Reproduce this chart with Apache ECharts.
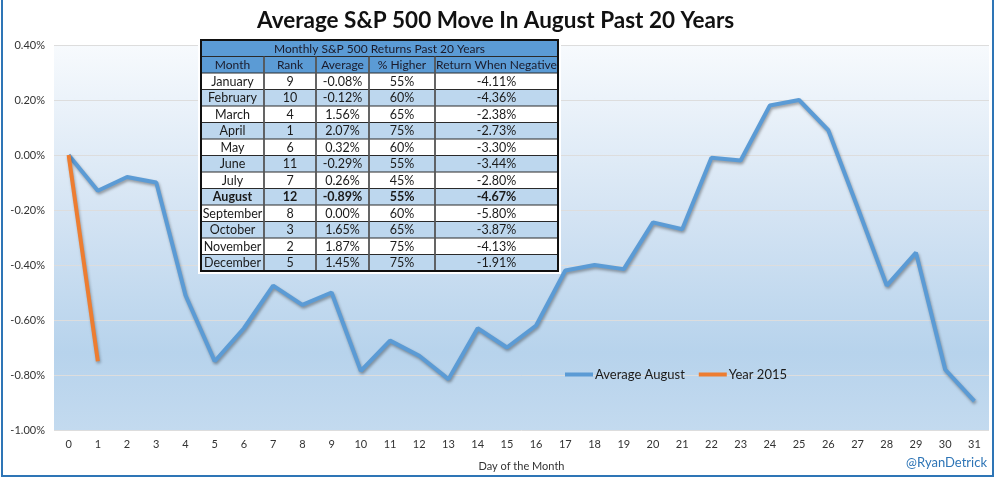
<!DOCTYPE html>
<html>
<head>
<meta charset="utf-8">
<script src="https://cdn.jsdelivr.net/npm/echarts@6/dist/echarts.min.js"></script>
<style>
html,body{margin:0;padding:0;background:#fff;}
#chart{width:998px;height:480px;}
</style>
</head>
<body>
<div id="chart"></div>
<script>
const days = ['0','1','2','3','4','5','6','7','8','9','10','11','12','13','14','15','16','17','18','19','20','21','22','23','24','25','26','27','28','29','30','31'];
const avgAugust = [0, -0.13, -0.08, -0.10, -0.51, -0.75, -0.63, -0.475, -0.545, -0.50, -0.785, -0.675, -0.73, -0.815, -0.63, -0.70, -0.62, -0.42, -0.40, -0.415, -0.245, -0.27, -0.01, -0.02, 0.18, 0.20, 0.09, -0.19, -0.475, -0.355, -0.78, -0.895];
const year2015 = [0, -0.75];

const tableTitle = 'Monthly S&P 500 Returns Past 20 Years';
const tableHeader = ['Month', 'Rank', 'Average', '% Higher', 'Return When Negative'];
const months = ['January','February','March','April','May','June','July','August','September','October','November','December'];
const ranks = ['9','10','4','1','6','11','7','12','8','3','2','5'];
const averages = ['-0.08%','-0.12%','1.56%','2.07%','0.32%','-0.29%','0.26%','-0.89%','0.00%','1.65%','1.87%','1.45%'];
const pctHigher = ['55%','60%','65%','75%','60%','55%','45%','55%','60%','65%','75%','75%'];
const retNegative = ['-4.11%','-4.36%','-2.38%','-2.73%','-3.30%','-3.44%','-2.80%','-4.67%','-5.80%','-3.87%','-4.13%','-1.91%'];
const boldMonth = 'August';

const FONT = 'Lato, "Open Sans", sans-serif';
const chart = echarts.init(document.getElementById('chart'));

// table graphic
const colX = [201, 264, 316, 369, 435, 558];
const tTop = 40, rowH = 16.5;
const els = [];
els.push({type:'rect', shape:{x:colX[0]-3, y:tTop-2, width:colX[5]-colX[0]+6, height:rowH*14+5}, style:{fill:'#fff'}});
// title row
els.push({type:'rect', shape:{x:colX[0], y:tTop, width:colX[5]-colX[0], height:rowH}, style:{fill:'#5B9BD5'}});
els.push({type:'text', style:{text:tableTitle, x:(colX[0]+colX[5])/2, y:tTop+rowH/2+0.5, align:'center', verticalAlign:'middle', fill:'#1a1a2a', font:'12px '+FONT}});
// header row
els.push({type:'rect', shape:{x:colX[0], y:tTop+rowH, width:colX[5]-colX[0], height:rowH}, style:{fill:'#5B9BD5'}});
tableHeader.forEach((h,i)=>{
  els.push({type:'text', style:{text:h, x:(colX[i]+colX[i+1])/2, y:tTop+rowH*1.5+0.5, align:'center', verticalAlign:'middle', fill:'#1a1a2a', font:'12px '+FONT}});
});
months.forEach((m,r)=>{
  const y = tTop + rowH*(r+2);
  els.push({type:'rect', shape:{x:colX[0], y:y, width:colX[5]-colX[0], height:rowH}, style:{fill: r%2===1 ? '#BDD7EE' : '#FFFFFF'}});
  const vals = [m, ranks[r], averages[r], pctHigher[r], retNegative[r]];
  const bold = m === boldMonth;
  vals.forEach((v,i)=>{
    els.push({type:'text', style:{text:v, x:(colX[i]+colX[i+1])/2, y:y+rowH/2+0.5, align:'center', verticalAlign:'middle', fill:'#1a1a1a', font:(bold?'bold ':'')+'12.5px '+FONT}});
  });
});
// horizontal lines
for (let r=1; r<14; r++){
  const y = tTop + rowH*r;
  els.push({type:'line', shape:{x1:colX[0], y1:y, x2:colX[5], y2:y}, style:{stroke:'#2a2a2a', lineWidth:1}});
}
// vertical lines
for (let i=1; i<5; i++){
  els.push({type:'line', shape:{x1:colX[i], y1:tTop+rowH, x2:colX[i], y2:tTop+rowH*14}, style:{stroke:'#555', lineWidth:1.8}});
}
els.push({type:'rect', shape:{x:colX[0], y:tTop, width:colX[5]-colX[0], height:rowH*14}, style:{fill:'none', stroke:'#111', lineWidth:2}});

// outer border and watermark
els.push({type:'rect', shape:{x:2, y:-5, width:991, height:481}, style:{fill:'none', stroke:'#2E75B6', lineWidth:2}});
els.push({type:'text', style:{text:'@RyanDetrick', x:987, y:463, align:'right', verticalAlign:'middle', fill:'#2E75B6', font:'13px '+FONT}});
els.forEach(e=>{e.silent=true; e.z=100;});

chart.setOption({
  animation:false,
  backgroundColor:'#fff',
  title:{text:'Average S&P 500 Move In August Past 20 Years', left:252, top:4, textStyle:{fontFamily:FONT, fontWeight:'bold', fontSize:22.5, color:'#111'}},
  grid:{left:54, right:9, top:45, bottom:50, show:true, borderWidth:0,
    backgroundColor:{type:'linear', x:0, y:0, x2:0, y2:1, colorStops:[
      {offset:0,color:'#F7FAFD'},{offset:0.45,color:'#D3E3F3'},{offset:0.8,color:'#B7D3EC'},{offset:1,color:'#C3DAEF'}]}},
  legend:{left:560, top:363, itemWidth:28, itemHeight:4, itemGap:14,
    data:[{name:'Average August', icon:'rect'},{name:'Year 2015', icon:'rect'}],
    textStyle:{fontFamily:FONT, fontSize:13, color:'#1a1a1a', padding:[0,0,0,-3]}},
  xAxis:{type:'category', data:days, boundaryGap:true,
    axisLine:{show:false}, axisTick:{show:false},
    axisLabel:{fontFamily:FONT, fontSize:11, color:'#333', margin:9},
    name:'Day of the Month', nameLocation:'middle', nameGap:31,
    nameTextStyle:{fontFamily:FONT, fontSize:11, color:'#333'}},
  yAxis:{type:'value', min:-1, max:0.4, interval:0.2,
    axisLine:{show:false}, axisTick:{show:false},
    splitLine:{lineStyle:{color:'#DDDDDD', width:1}},
    axisLabel:{fontFamily:FONT, fontSize:11, color:'#333', margin:9, formatter:v=>v.toFixed(2)+'%'}},
  series:[
    {name:'Average August', type:'line', data:avgAugust, symbol:'none', z:3,
      lineStyle:{color:'#5B9BD5', width:4, shadowColor:'rgba(0,0,0,0.35)', shadowBlur:3, shadowOffsetY:2, shadowOffsetX:1},
      itemStyle:{color:'#5B9BD5'}},
    {name:'Year 2015', type:'line', data:year2015, symbol:'none', z:4,
      lineStyle:{color:'#ED7D31', width:4, shadowColor:'rgba(0,0,0,0.3)', shadowBlur:3, shadowOffsetY:2, shadowOffsetX:1},
      itemStyle:{color:'#ED7D31'}}
  ],
  graphic:{elements:els}
});
</script>
</body>
</html>
